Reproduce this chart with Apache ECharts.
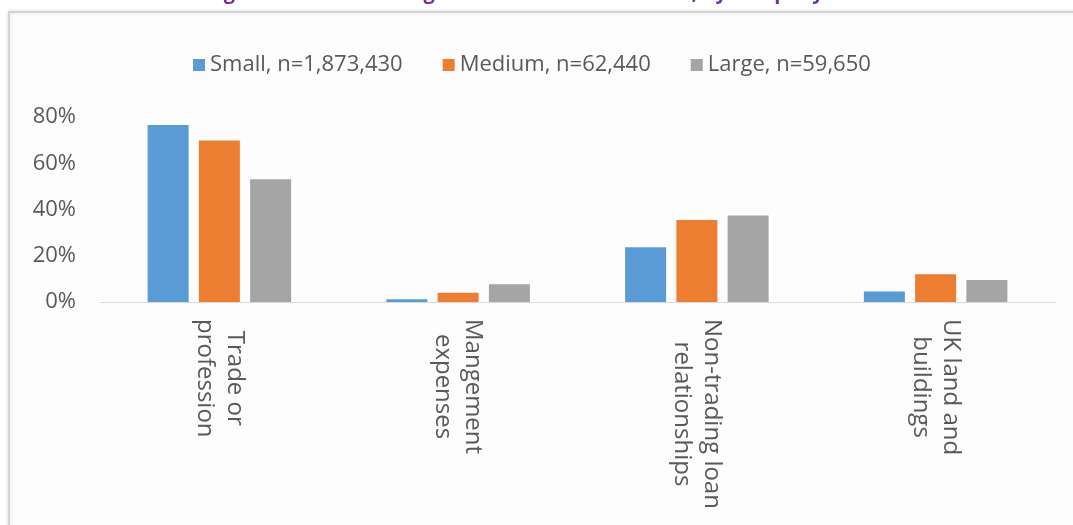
<!DOCTYPE html>
<html>
<head>
<meta charset="utf-8">
<script src="https://cdn.jsdelivr.net/npm/echarts@6/dist/echarts.min.js"></script>
<style>
  html, body { margin: 0; padding: 0; background: #ffffff; }
  #chart { width: 1073px; height: 525px; }
</style>
</head>
<body>
<div id="chart"></div>
<script>
// Categories of source, shown as two-line rotated labels
const categories = [
  'Trade or\nprofession',
  'Mangement\nexpenses',
  'Non-trading loan\nrelationships',
  'UK land and\nbuildings'
];

// Share of companies (%) in each size band
const seriesNames = ['Small, n=1,873,430', 'Medium, n=62,440', 'Large, n=59,650'];
const smallValues  = [76.5, 1.2, 23.7, 4.5];
const mediumValues = [69.8, 4.0, 35.5, 12.0];
const largeValues  = [53.1, 7.7, 37.4, 9.5];

const yTicks = [0, 20, 40, 60, 80];

const titleText = 'Figure 6: Losses arising from each income source, by company size';

const colors = ['#5b9bd5', '#ed7d31', '#a5a5a5'];
const font = '"Open Sans", "Noto Sans", sans-serif';

const chart = echarts.init(document.getElementById('chart'), null, { renderer: 'canvas' });

chart.setOption({
  animation: false,
  backgroundColor: '#ffffff',
  color: colors,
  title: {
    text: titleText,
    left: 'center',
    top: -22,
    textStyle: { color: '#7030a0', fontSize: 20, fontWeight: 'bold', fontFamily: font }
  },
  graphic: [{
    type: 'rect',
    z: -10,
    shape: { x: 9, y: 12, width: 1200, height: 700 },
    style: { fill: '#fdfdfd', stroke: '#d4d4d4', lineWidth: 2, shadowColor: 'rgba(0,0,0,0.12)', shadowBlur: 4 }
  }],
  legend: {
    left: 188,
    top: 49,
    itemWidth: 12,
    itemHeight: 12,
    itemGap: 40,
    icon: 'rect',
    textStyle: { color: '#595959', fontSize: 22, fontFamily: font },
    data: seriesNames
  },
  grid: { left: 100, right: 18, top: 117, bottom: 223, containLabel: false },
  xAxis: {
    type: 'category',
    data: categories,
    axisLine: { lineStyle: { color: '#d9d9d9', width: 1 } },
    axisTick: { show: false },
    axisLabel: {
      rotate: -90,
      margin: 17,
      color: '#595959',
      fontSize: 24,
      fontFamily: font,
      formatter: (v) => v.split('\n').map(s => '{c|' + s + '}').join('\n'),
      rich: { c: { align: 'center', color: '#595959', fontSize: 24, fontFamily: font, lineHeight: 30 } }
    }
  },
  yAxis: {
    type: 'value',
    min: yTicks[0],
    max: yTicks[yTicks.length - 1],
    interval: yTicks[1] - yTicks[0],
    splitLine: { show: false },
    axisLine: { show: false },
    axisTick: { show: false },
    axisLabel: {
      margin: 24,
      color: '#595959',
      fontSize: 22,
      fontFamily: font,
      formatter: '{value}%'
    }
  },
  series: [
    { name: seriesNames[0], type: 'bar', data: smallValues, barWidth: 41, barGap: '25%' },
    { name: seriesNames[1], type: 'bar', data: mediumValues, barWidth: 41, barGap: '25%' },
    { name: seriesNames[2], type: 'bar', data: largeValues, barWidth: 41, barGap: '25%' }
  ]
});
</script>
</body>
</html>
